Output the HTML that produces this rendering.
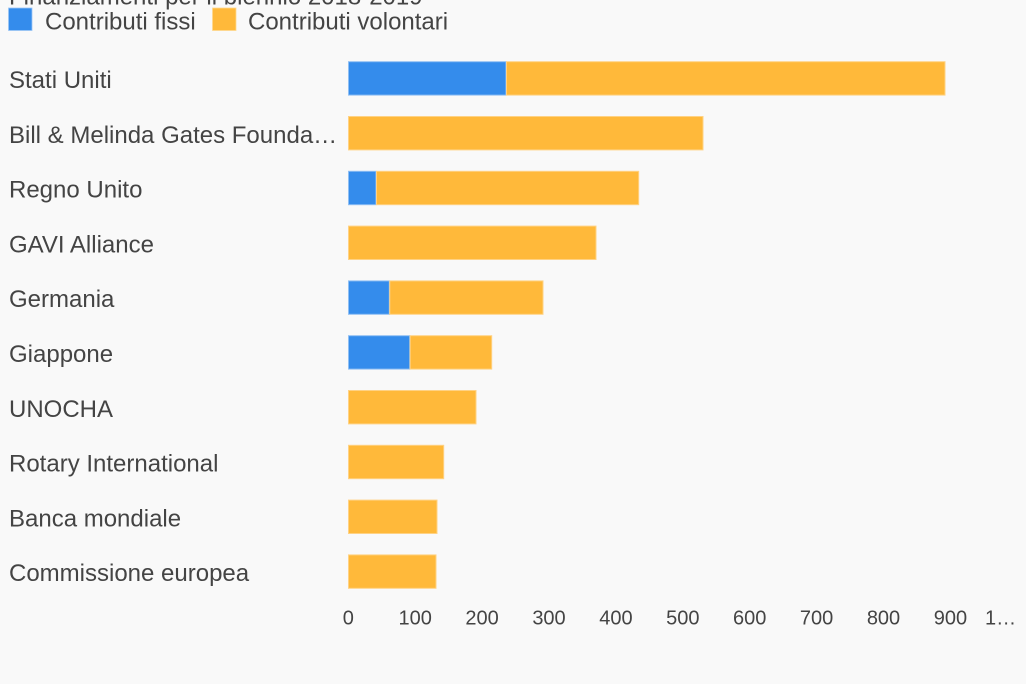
<!DOCTYPE html>
<html>
<head>
<meta charset="utf-8">
<style>
  html, body { margin:0; padding:0; background:#f9f9f9; }
  body { width:1026px; height:684px; overflow:hidden; }
  svg { display:block; }
  text { font-family: "Liberation Sans", Arial, sans-serif; fill:#444; }
</style>
</head>
<body>
<svg width="1026" height="684" viewBox="0 0 1026 684" xmlns="http://www.w3.org/2000/svg">
  <rect x="0" y="0" width="1026" height="684" fill="#f9f9f9"/>

  <!-- Title (clipped at top) -->
  <text x="9" y="4.5" font-size="24">Finanziamenti per il biennio 2018-2019</text>

  <!-- Legend -->
  <rect x="8.5" y="8" width="23.5" height="22.5" fill="#348cec" stroke="#9cc6f5" stroke-width="0.8"/>
  <text x="45" y="29.5" font-size="24">Contributi fissi</text>
  <rect x="212.5" y="8" width="23.5" height="22.5" fill="#ffb93a" stroke="#ffd98e" stroke-width="0.8"/>
  <text x="248" y="29.5" font-size="24">Contributi volontari</text>

  <!-- Category labels -->
  <g font-size="24">
    <text x="9" y="88">Stati Uniti</text>
    <text x="9" y="142.8">Bill &amp; Melinda Gates Founda…</text>
    <text x="9" y="197.6">Regno Unito</text>
    <text x="9" y="252.4">GAVI Alliance</text>
    <text x="9" y="307.2">Germania</text>
    <text x="9" y="362">Giappone</text>
    <text x="9" y="416.8">UNOCHA</text>
    <text x="9" y="471.6">Rotary International</text>
    <text x="9" y="526.4">Banca mondiale</text>
    <text x="9" y="581.2">Commissione europea</text>
  </g>

  <!-- Bars -->
  <g stroke-width="1">
    <!-- Stati Uniti -->
    <rect x="348.5" y="61.7" width="157.5" height="33.4" fill="#348cec" stroke="#8fbff3"/>
    <rect x="506.5" y="61.7" width="438.5" height="33.4" fill="#ffb93a" stroke="#ffd284"/>
    <!-- Gates -->
    <rect x="348.5" y="116.5" width="354.5" height="33.4" fill="#ffb93a" stroke="#ffd284"/>
    <!-- Regno Unito -->
    <rect x="348.5" y="171.3" width="27.5" height="33.4" fill="#348cec" stroke="#8fbff3"/>
    <rect x="376.5" y="171.3" width="262.2" height="33.4" fill="#ffb93a" stroke="#ffd284"/>
    <!-- GAVI -->
    <rect x="348.5" y="226.1" width="247.5" height="33.4" fill="#ffb93a" stroke="#ffd284"/>
    <!-- Germania -->
    <rect x="348.5" y="280.9" width="40.8" height="33.4" fill="#348cec" stroke="#8fbff3"/>
    <rect x="389.8" y="280.9" width="153.2" height="33.4" fill="#ffb93a" stroke="#ffd284"/>
    <!-- Giappone -->
    <rect x="348.5" y="335.7" width="61.2" height="33.4" fill="#348cec" stroke="#8fbff3"/>
    <rect x="410.2" y="335.7" width="81.5" height="33.4" fill="#ffb93a" stroke="#ffd284"/>
    <!-- UNOCHA -->
    <rect x="348.5" y="390.5" width="127.5" height="33.4" fill="#ffb93a" stroke="#ffd284"/>
    <!-- Rotary -->
    <rect x="348.5" y="445.3" width="95.2" height="33.4" fill="#ffb93a" stroke="#ffd284"/>
    <!-- Banca mondiale -->
    <rect x="348.5" y="500.1" width="88.5" height="33.4" fill="#ffb93a" stroke="#ffd284"/>
    <!-- Commissione europea -->
    <rect x="348.5" y="554.9" width="87.5" height="33.4" fill="#ffb93a" stroke="#ffd284"/>
  </g>

  <!-- X axis tick labels -->
  <g font-size="20" text-anchor="middle">
    <text x="348.3" y="624.5">0</text>
    <text x="415.2" y="624.5">100</text>
    <text x="482.1" y="624.5">200</text>
    <text x="549.0" y="624.5">300</text>
    <text x="615.9" y="624.5">400</text>
    <text x="682.8" y="624.5">500</text>
    <text x="749.7" y="624.5">600</text>
    <text x="816.6" y="624.5">700</text>
    <text x="883.5" y="624.5">800</text>
    <text x="950.4" y="624.5">900</text>
  </g>
  <text x="985" y="624.5" font-size="20">1…</text>
</svg>
</body>
</html>
